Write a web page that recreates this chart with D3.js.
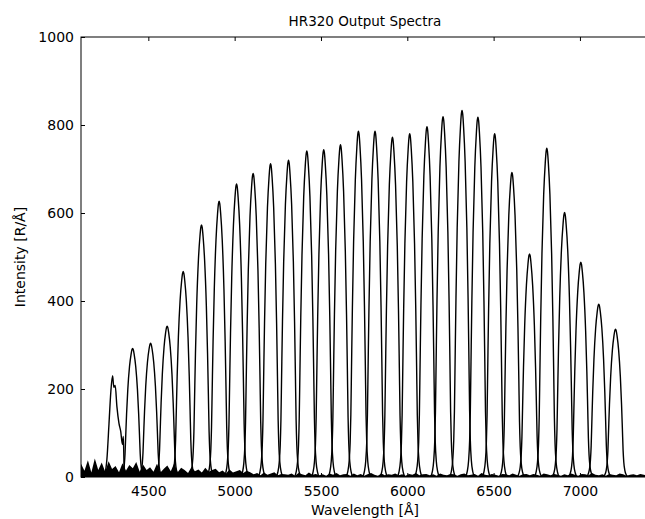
<!DOCTYPE html>
<html>
<head>
<meta charset="utf-8">
<script src="https://cdn.jsdelivr.net/npm/d3@7"></script>
<style>
  html, body { margin: 0; padding: 0; background: #fff; }
  svg { display: block; }
  text { font-family: "DejaVu Sans", sans-serif; fill: #000; }
</style>
</head>
<body>
<svg id="chart" width="645" height="519"></svg>
<script>
// ---- data ----
const title = "HR320 Output Spectra";
const xLabel = "Wavelength [Å]";
const yLabel = "Intensity [R/Å]";
const xTicks = [4500, 5000, 5500, 6000, 6500, 7000];
const yTicks = [0, 200, 400, 600, 800, 1000];

// peak centres (Å) and peak intensities
const peakCenters = [4409, 4513, 4609, 4702, 4808, 4910, 5011, 5107, 5208, 5312,
                     5418, 5516, 5613, 5717, 5813, 5914, 6014, 6114, 6207, 6317,
                     6409, 6506, 6606, 6708, 6808, 6911, 7005, 7109, 7206];
const peakHeights = [292, 304, 343, 467, 573, 627, 666, 690, 712, 720,
                     741, 744, 755, 786, 786, 772, 780, 796, 819, 833,
                     818, 780, 692, 507, 747, 601, 488, 393, 336];

// measured line profile: offset from centre (Å) and fraction of peak height
const profileOffsets = [-72, -62, -54, -48, -44, -40, -35, -28, -18, -9, -4, 0, 4, 9, 18, 28, 35, 40, 44, 48, 54, 62, 72];
const profileFracs   = [0, 0.015, 0.045, 0.1, 0.18, 0.32, 0.49, 0.68, 0.86, 0.955, 0.99, 1, 0.99, 0.955, 0.86, 0.68, 0.49, 0.32, 0.18, 0.1, 0.045, 0.015, 0];

// first (bluest) spectrum, irregular shape read point by point
const firstPeakWl  = [4232, 4248, 4260, 4272, 4283, 4293, 4300, 4308, 4318, 4330, 4340, 4350, 4355, 4360, 4370, 4382];
const firstPeakVal = [0, 8, 40, 120, 195, 230, 204, 208, 160, 122, 104, 74, 92, 22, 6, 0];

// baseline noise envelope, every 20 Å starting at 4110 Å
const noiseStart = 4110, noiseStep = 20;
const noiseVals = [
  30,14,38,10,42,16,33,12,36,18,
  25,11,31,14,27,20,34,12,28,16,
  22,12,30,10,19,26,13,31,11,21,
  16,9,23,13,17,10,21,12,16,19,
  11,15,8,17,10,13,16,9,14,11,
  6,9,4,10,5,8,11,4,7,6,
  5,8,3,9,6,4,10,5,7,4,
  6,3,8,5,9,4,6,7,3,8,
  4,7,3,6,9,5,3,8,4,6,
  5,8,4,6,3,7,5,9,4,6,
  7,4,6,3,8,5,4,7,6,3,
  6,8,4,5,7,3,9,5,4,7,
  5,3,7,6,4,8,5,3,6,7,
  4,7,5,3,8,6,4,7,5,3,
  6,4,8,5,3,7,6,4,9,5,
  4,6,3,7,5,4,8,6,3,5,
  6,4,7,5,3
];

// ---- layout ----
const svg = d3.select("#chart");
const mLeft = 81, mRight = 649, mTop = 37, mBottom = 477;

const x = d3.scaleLinear().domain([4110, 7400]).range([mLeft, mRight]);
const y = d3.scaleLinear().domain([0, 1000]).range([mBottom, mTop]);

svg.append("defs").append("clipPath").attr("id", "plotclip")
  .append("rect").attr("x", mLeft).attr("y", mTop).attr("width", mRight - mLeft).attr("height", mBottom - mTop);

const g = svg.append("g").attr("clip-path", "url(#plotclip)");

const line = d3.line().x(d => x(d[0])).y(d => y(d[1])).curve(d3.curveMonotoneX);

// baseline noise
const noisePts = noiseVals.map((v, i) => [noiseStart + i * noiseStep, v]);
g.append("path")
  .datum(noisePts)
  .attr("d", d3.area().x(d => x(d[0])).y0(y(0)).y1(d => y(d[1])).curve(d3.curveLinear))
  .attr("fill", "#000");

// spectra
const spectra = [firstPeakWl.map((w, i) => [w, firstPeakVal[i]])];
peakCenters.forEach((c, k) => {
  spectra.push(profileOffsets.map((o, j) => [c + o, peakHeights[k] * profileFracs[j]]));
});
g.selectAll("path.spec").data(spectra).enter().append("path")
  .attr("class", "spec")
  .attr("d", line)
  .attr("fill", "none")
  .attr("stroke", "#000")
  .attr("stroke-width", 1.4)
  .attr("stroke-linejoin", "round");

// frame
svg.append("rect").attr("x", mLeft).attr("y", mTop).attr("width", mRight - mLeft).attr("height", mBottom - mTop)
  .attr("fill", "none").attr("stroke", "#000").attr("stroke-width", 1);

// axes with inward ticks
const fs = 14;
const xb = svg.append("g").attr("transform", `translate(0,${mBottom})`)
  .call(d3.axisBottom(x).tickValues(xTicks).tickSize(-4).tickPadding(9).tickFormat(d3.format("d")));
const xt = svg.append("g").attr("transform", `translate(0,${mTop})`)
  .call(d3.axisTop(x).tickValues(xTicks).tickSize(-4).tickFormat(""));
const yl = svg.append("g").attr("transform", `translate(${mLeft},0)`)
  .call(d3.axisLeft(y).tickValues(yTicks).tickSize(-4).tickPadding(7).tickFormat(d3.format("d")));
const yr = svg.append("g").attr("transform", `translate(${mRight},0)`)
  .call(d3.axisRight(y).tickValues(yTicks).tickSize(-4).tickFormat(""));
[xb, xt, yl, yr].forEach(a => {
  a.select(".domain").remove();
  a.selectAll("line").attr("stroke", "#000");
  a.selectAll("text").attr("font-size", fs).attr("font-family", "DejaVu Sans").attr("fill", "#000");
});

// titles
svg.append("text").attr("x", (mLeft + mRight) / 2).attr("y", 26)
  .attr("text-anchor", "middle").attr("font-size", 13.5).text(title);
svg.append("text").attr("x", (mLeft + mRight) / 2).attr("y", 515)
  .attr("text-anchor", "middle").attr("font-size", 14).text(xLabel);
svg.append("text").attr("transform", `translate(25,${(mTop + mBottom) / 2}) rotate(-90)`)
  .attr("text-anchor", "middle").attr("font-size", 14).text(yLabel);
</script>
</body>
</html>
